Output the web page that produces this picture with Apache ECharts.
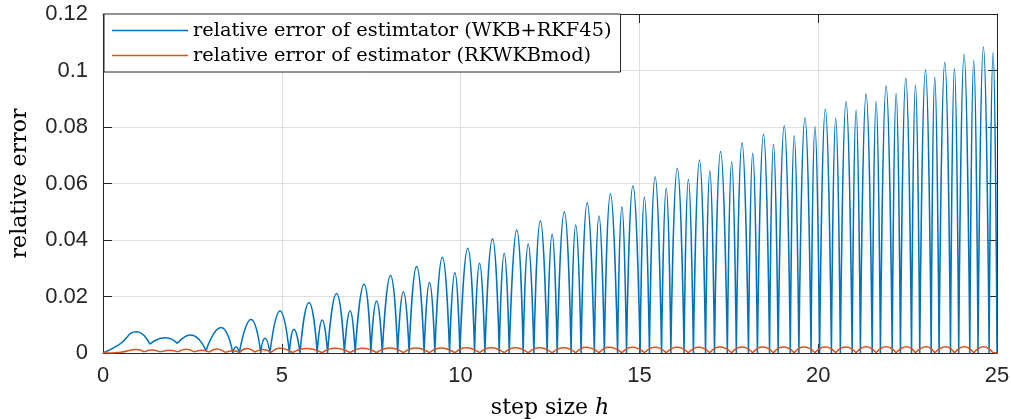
<!DOCTYPE html>
<html><head><meta charset="utf-8">
<script src="https://cdn.jsdelivr.net/npm/echarts@6/dist/echarts.min.js"></script>
<style>html,body{margin:0;padding:0;background:#fff}#c{width:1011px;height:419px}</style>
</head><body><div id="c"></div>
<script>
// ---- data ----
const legendNames = [
  'relative error of estimtator (WKB+RKF45)',
  'relative error of estimator (RKWKBmod)'
];
const xTickLabels = ['0', '5', '10', '15', '20', '25'];
const yTickLabels = ['0', '0.02', '0.04', '0.06', '0.08', '0.1', '0.12'];

// blue series: minima / peaks (x = step size h)
const blueX = [0.00,0.45,0.94,1.31,1.73,2.08,2.45,2.88,3.30,3.63,3.72,3.81,4.14,4.41,4.53,4.67,4.95,5.21,5.34,5.51,
  5.76,5.99,6.13,6.28,6.53,6.75,6.91,7.05,7.30,7.49,7.65,7.81,8.04,8.24,8.40,8.56,8.77,8.98,9.13,9.28,
  9.49,9.69,9.84,9.98,10.20,10.39,10.53,10.68,10.89,11.08,11.22,11.36,11.57,11.75,11.89,12.05,12.23,12.42,12.56,12.70,
  12.90,13.09,13.22,13.37,13.54,13.74,13.87,14.02,14.19,14.39,14.51,14.64,14.82,15.02,15.14,15.28,15.44,15.62,15.75,15.88,
  16.06,16.25,16.37,16.51,16.68,16.85,16.97,17.10,17.27,17.46,17.58,17.71,17.87,18.05,18.17,18.30,18.47,18.64,18.75,18.88,
  19.05,19.22,19.33,19.46,19.63,19.80,19.91,20.04,20.20,20.37,20.49,20.62,20.78,20.95,21.06,21.18,21.34,21.51,21.62,21.74,
  21.90,22.07,22.18,22.30,22.45,22.61,22.72,22.84,23.00,23.16,23.26,23.38,23.54,23.70,23.81,23.93,24.08,24.24,24.35,24.47,
  24.62,24.78,24.89,25.00];
const blueY = [0.0000,0.0030,0.0075,0.0031,0.0054,0.0034,0.0064,0.0008,0.0090,0.0000,0.0022,0.0000,0.0119,0.0000,0.0052,0.0000,0.0149,0.0000,0.0084,0.0000,
  0.0179,0.0000,0.0117,0.0000,0.0211,0.0000,0.0150,0.0000,0.0243,0.0000,0.0184,0.0000,0.0274,0.0000,0.0217,0.0000,0.0306,0.0000,0.0250,0.0000,
  0.0339,0.0000,0.0284,0.0000,0.0371,0.0000,0.0318,0.0000,0.0404,0.0000,0.0353,0.0000,0.0435,0.0000,0.0386,0.0000,0.0468,0.0000,0.0420,0.0000,
  0.0500,0.0000,0.0453,0.0000,0.0532,0.0000,0.0485,0.0000,0.0563,0.0000,0.0518,0.0000,0.0592,0.0000,0.0551,0.0000,0.0624,0.0000,0.0583,0.0000,
  0.0654,0.0000,0.0615,0.0000,0.0683,0.0000,0.0645,0.0000,0.0713,0.0000,0.0677,0.0000,0.0744,0.0000,0.0707,0.0000,0.0774,0.0000,0.0739,0.0000,
  0.0804,0.0000,0.0769,0.0000,0.0833,0.0000,0.0801,0.0000,0.0863,0.0000,0.0831,0.0000,0.0890,0.0000,0.0860,0.0000,0.0917,0.0000,0.0890,0.0000,
  0.0945,0.0000,0.0919,0.0000,0.0973,0.0000,0.0948,0.0000,0.1002,0.0000,0.0976,0.0000,0.1029,0.0000,0.1007,0.0000,0.1057,0.0000,0.1035,0.0000,
  0.1083,0.0000,0.1064,0.0000];

// orange series: minima / peaks
const orangeX = [0.00,0.50,0.94,1.15,1.36,1.60,1.87,2.10,2.32,2.55,2.76,2.97,3.18,3.42,3.64,3.82,4.02,4.25,4.48,4.70,
  4.95,5.30,5.68,6.13,6.48,6.91,7.26,7.65,8.02,8.40,8.74,9.13,9.45,9.84,10.15,10.53,10.85,11.22,11.53,11.89,
  12.20,12.56,12.88,13.22,13.50,13.87,14.15,14.51,14.80,15.14,15.44,15.75,16.05,16.37,16.66,16.97,17.25,17.58,17.86,18.17,
  18.44,18.75,19.02,19.33,19.60,19.91,20.19,20.49,20.77,21.06,21.34,21.62,21.90,22.18,22.47,22.72,23.02,23.26,23.57,23.81,
  24.09,24.35,24.62,24.89,25.00];
const orangeY = [0.0000,0.0003,0.0012,0.0004,0.0011,0.0004,0.0010,0.0004,0.0013,0.0004,0.0010,0.0003,0.0014,0.0002,0.0008,0.0002,0.0016,0.0003,0.0012,0.0002,
  0.0017,0.0001,0.0016,0.0001,0.0017,0.0001,0.0017,0.0001,0.0018,0.0001,0.0018,0.0001,0.0018,0.0001,0.0019,0.0001,0.0019,0.0001,0.0019,0.0001,
  0.0019,0.0001,0.0019,0.0001,0.0020,0.0001,0.0020,0.0001,0.0020,0.0001,0.0020,0.0001,0.0020,0.0001,0.0020,0.0001,0.0021,0.0001,0.0021,0.0001,
  0.0021,0.0001,0.0021,0.0001,0.0021,0.0001,0.0021,0.0001,0.0021,0.0001,0.0022,0.0001,0.0022,0.0001,0.0022,0.0001,0.0022,0.0001,0.0022,0.0001,
  0.0022,0.0001,0.0022,0.0001,0.0001];

// ---- build line data: each arch is its own smooth piece (break at local minima) ----
function toSegments(xs, ys) {
  const out = [];
  for (let i = 0; i < xs.length; i++) {
    out.push([xs[i], ys[i]]);
    const isMin = i > 0 && i < xs.length - 1 && ys[i] <= ys[i - 1] && ys[i] <= ys[i + 1];
    if (isMin) { out.push([xs[i], '-']); out.push([xs[i], ys[i]]); }
  }
  return out;
}

const axisColor = '#262626';
const gridColor = '#dfdfdf';
const tickFont = { fontFamily: 'Liberation Sans', fontSize: 22, color: axisColor };

const chart = echarts.init(document.getElementById('c'), null, { renderer: 'canvas' });
chart.setOption({
  animation: false,
  backgroundColor: '#ffffff',
  grid: { left: 103, top: 14, width: 894, height: 339, containLabel: false, outerBoundsMode: 'none' },
  legend: {
    orient: 'vertical', left: 104, top: 14,
    padding: [7, 9, 7, 8], itemGap: 6, itemWidth: 76, itemHeight: 1.5,
    icon: 'rect',
    backgroundColor: '#ffffff', borderColor: axisColor, borderWidth: 1, borderRadius: 0,
    textStyle: { fontFamily: 'DejaVu Serif', fontSize: 19.4, color: '#000' },
    selectedMode: false,
    data: legendNames
  },
  xAxis: [
    {
      type: 'value', min: 0, max: 25, interval: 5, position: 'bottom',
      axisLine: { show: true, onZero: false, lineStyle: { color: axisColor, width: 1 } },
      axisTick: { show: true, inside: true, length: 9, lineStyle: { color: axisColor } },
      axisLabel: Object.assign({ margin: 12, formatter: v => xTickLabels[Math.round(v / 5)] }, tickFont),
      splitLine: { show: true, lineStyle: { color: gridColor, width: 1 } },
      name: '{a|step size }{b|h}', nameLocation: 'middle', nameGap: 44,
      nameTextStyle: { rich: {
        a: { fontFamily: 'DejaVu Serif', fontSize: 22, color: '#000' },
        b: { fontFamily: 'DejaVu Serif', fontStyle: 'italic', fontSize: 22, color: '#000' }
      } }
    },
    {
      type: 'value', min: 0, max: 25, interval: 5, position: 'top',
      axisLine: { show: true, onZero: false, lineStyle: { color: axisColor, width: 1 } },
      axisTick: { show: true, inside: true, length: 9, lineStyle: { color: axisColor } },
      axisLabel: { show: false }, splitLine: { show: false }
    }
  ],
  yAxis: [
    {
      type: 'value', min: 0, max: 0.12, interval: 0.02, position: 'left',
      axisLine: { show: true, onZero: false, lineStyle: { color: axisColor, width: 1 } },
      axisTick: { show: true, inside: true, length: 9, lineStyle: { color: axisColor } },
      axisLabel: Object.assign({ margin: 15, formatter: v => yTickLabels[Math.round(v / 0.02)] }, tickFont),
      splitLine: { show: true, lineStyle: { color: gridColor, width: 1 } },
      name: 'relative error', nameLocation: 'middle', nameGap: 72, nameRotate: 90,
      nameTextStyle: { fontFamily: 'DejaVu Serif', fontSize: 22, color: '#000' }
    },
    {
      type: 'value', min: 0, max: 0.12, interval: 0.02, position: 'right',
      axisLine: { show: true, onZero: false, lineStyle: { color: axisColor, width: 1 } },
      axisTick: { show: true, inside: true, length: 9, lineStyle: { color: axisColor } },
      axisLabel: { show: false }, splitLine: { show: false }
    }
  ],
  series: [
    {
      type: 'line', name: legendNames[0], xAxisIndex: 0, yAxisIndex: 0,
      data: toSegments(blueX, blueY), symbol: 'none', showSymbol: false,
      smooth: 0.55, connectNulls: false,
      lineStyle: { color: '#0072BD', width: 1.5 }, itemStyle: { color: '#0072BD' },
      emphasis: { disabled: true }, z: 2
    },
    {
      type: 'line', name: legendNames[1], xAxisIndex: 0, yAxisIndex: 0,
      data: toSegments(orangeX, orangeY), symbol: 'none', showSymbol: false,
      smooth: 0.5, connectNulls: false,
      lineStyle: { color: '#D95319', width: 1.5 }, itemStyle: { color: '#D95319' },
      emphasis: { disabled: true }, z: 3
    }
  ]
});
</script></body></html>
